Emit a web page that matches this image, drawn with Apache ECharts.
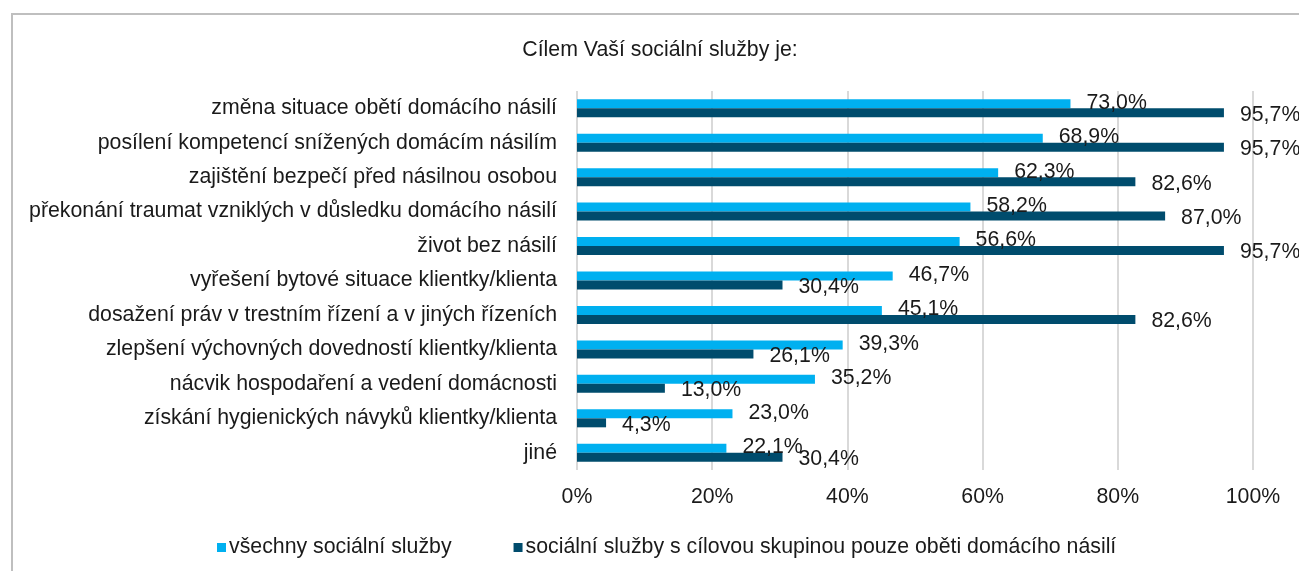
<!DOCTYPE html>
<html>
<head>
<meta charset="utf-8">
<script src="https://cdn.jsdelivr.net/npm/echarts@6/dist/echarts.min.js"></script>
<style>
  html, body { margin: 0; padding: 0; background: #fff; }
  #chart { width: 1299px; height: 571px; }
</style>
</head>
<body>
<div id="chart"></div>
<script>
const categories = [
  'změna situace obětí domácího násilí',
  'posílení kompetencí snížených domácím násilím',
  'zajištění bezpečí před násilnou osobou',
  'překonání traumat vzniklých v důsledku domácího násilí',
  'život bez násilí',
  'vyřešení bytové situace klientky/klienta',
  'dosažení práv v trestním řízení a v jiných řízeních',
  'zlepšení výchovných dovedností klientky/klienta',
  'nácvik hospodaření a vedení domácnosti',
  'získání hygienických návyků klientky/klienta',
  'jiné'
];
const allServices = [73.0, 68.9, 62.3, 58.2, 56.6, 46.7, 45.1, 39.3, 35.2, 23.0, 22.1];
const dvServices = [95.7, 95.7, 82.6, 87.0, 95.7, 30.4, 82.6, 26.1, 13.0, 4.3, 30.4];
const seriesNames = ['všechny sociální služby', 'sociální služby s cílovou skupinou pouze oběti domácího násilí'];
const title = 'Cílem Vaší sociální služby je:';

const font = '"Liberation Sans", Arial, sans-serif';
const fs = 21.3;

let myChart = echarts.init(document.getElementById('chart'));

// hodnoty s desetinnou čárkou
function pct(p) {
  return p.value.toFixed(1).replace('.', ',') + '%';
}

let option = {
  animation: false,
  textStyle: { fontFamily: font },
  title: {
    text: title,
    left: 655,
    top: 35,
    textAlign: 'center',
    textStyle: { fontFamily: font, fontSize: fs, fontWeight: 'normal', color: '#1a1a1a' }
  },
  graphic: [{
    type: 'rect',
    shape: { x: 12, y: 14, width: 1400, height: 700 },
    style: { fill: 'none', stroke: '#bfbfbf', lineWidth: 2 },
    silent: true
  }],
  legend: {
    data: seriesNames,
    left: 212,
    top: 532,
    itemWidth: 9,
    itemHeight: 9,
    itemGap: 62,
    icon: 'rect',
    textStyle: { fontFamily: font, fontSize: fs, color: '#1a1a1a', padding: [0, 0, 0, -2] }
  },
  grid: {
    left: 577,
    right: 46,
    top: 91,
    bottom: 101,
    containLabel: false
  },
  xAxis: {
    type: 'value',
    min: 0,
    max: 100,
    interval: 20,
    axisLine: { show: false },
    axisTick: { show: false },
    axisLabel: {
      formatter: '{value}%',
      fontFamily: font,
      fontSize: fs,
      color: '#1a1a1a',
      margin: 17
    },
    splitLine: { lineStyle: { color: '#d9d9d9', width: 2 } }
  },
  yAxis: {
    type: 'category',
    data: categories,
    inverse: true,
    axisLine: { show: false },
    axisTick: { show: false },
    axisLabel: {
      fontFamily: font,
      fontSize: fs,
      color: '#1a1a1a',
      margin: 20
    }
  },
  series: [{
    name: seriesNames[0],
    type: 'bar',
    data: allServices,
    barWidth: 9,
    barGap: '0%',
    itemStyle: { color: '#00b0f0' },
    label: {
      show: true,
      position: 'right',
      distance: 16,
      formatter: pct,
      fontFamily: font,
      fontSize: fs,
      color: '#1a1a1a',
      offset: [0, -1]
    }
  }, {
    name: seriesNames[1],
    type: 'bar',
    data: dvServices,
    barWidth: 9,
    barGap: '0%',
    itemStyle: { color: '#004c6d' },
    label: {
      show: true,
      position: 'right',
      distance: 16,
      formatter: pct,
      fontFamily: font,
      fontSize: fs,
      color: '#1a1a1a',
      offset: [0, 2]
    }
  }]
};

myChart.setOption(option);
</script>
</body>
</html>
